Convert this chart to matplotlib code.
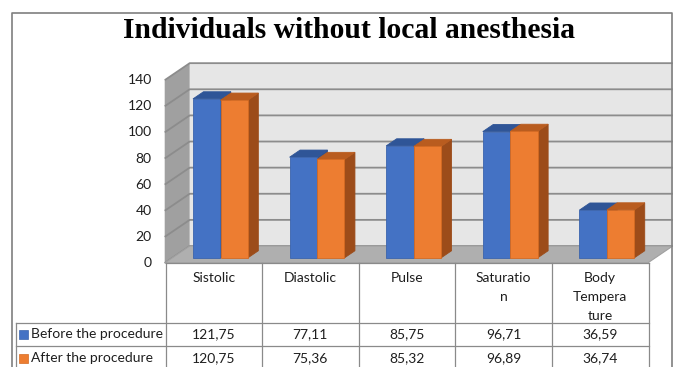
import numpy as np
import matplotlib
matplotlib.use("Agg")
import matplotlib.pyplot as plt
from matplotlib.patches import Polygon, Rectangle

# ---- data ----
title = "Individuals without local anesthesia"
categories = ["Sistolic", "Diastolic", "Pulse", "Saturatio\nn", "Body\nTempera\nture"]
series_names = ["Before the procedure", "After the procedure"]
before = [121.75, 77.11, 85.75, 96.71, 36.59]
after = [120.75, 75.36, 85.32, 96.89, 36.74]
before_labels = ["121,75", "77,11", "85,75", "96,71", "36,59"]
after_labels = ["120,75", "75,36", "85,32", "96,89", "36,74"]
yticks = [0, 20, 40, 60, 80, 100, 120, 140]

W, H = 678, 367
fig = plt.figure(figsize=(W / 100, H / 100), dpi=100)
fig.patch.set_facecolor("white")

# pixel geometry of the "front plane"
X0, XS = 213.0, 96.6      # category 0 centre px, px per category
Y0, YS = 263.0, 1.306     # value 0 px (from top), px per value unit
DPX, DPY = 25.0, 17.0     # full depth offset in px

ax = fig.add_axes([0, 0, 1, 1])
ax.set_xlim(-X0 / XS, (W - X0) / XS)
ax.set_ylim(-(H - Y0) / YS, Y0 / YS)
ax.axis("off")

DX = DPX / XS
DV = DPY / YS


def P(x, v, d):
    return (x + d * DX, v + d * DV)


xl, xr = -0.5, len(categories) - 0.5
vmax = yticks[-1]

# back wall
ax.add_patch(Polygon([P(xl, 0, 1), P(xr, 0, 1), P(xr, vmax, 1), P(xl, vmax, 1)],
                     closed=True, facecolor="#E6E6E6", edgecolor="none", zorder=1))
# left wall
ax.add_patch(Polygon([P(xl, 0, 0), P(xl, 0, 1), P(xl, vmax, 1), P(xl, vmax, 0)],
                     closed=True, facecolor="#A0A0A0", edgecolor="none", zorder=1))
# gridlines
for t in yticks:
    a, b, c = P(xl, t, 0), P(xl, t, 1), P(xr, t, 1)
    ax.plot([a[0], b[0], c[0]], [a[1], b[1], c[1]], color="#8C8C8C", lw=1.3, zorder=2,
            solid_capstyle="butt")
# floor
ax.add_patch(Polygon([P(xl, 0, 0), P(xr, 0, 0), P(xr, 0, 1), P(xl, 0, 1)],
                     closed=True, facecolor="#AFAFAF", edgecolor="#A0A0A0", lw=0.8, zorder=3))

# bars
bw = 0.283
d0, d1 = 0.3, 0.72
styles = [
    dict(front="#4472C4", top="#2F5597", side="#2E518F", edge="#3B64AD"),
    dict(front="#ED7D31", top="#B95C1F", side="#9C4C1A", edge="#D46A22"),
]
offsets = [-bw - 0.002, 0.0]
for i in range(len(categories)):
    for s, vals in enumerate([before, after]):
        v = vals[i]
        st = styles[s]
        x0 = i + offsets[s]
        x1 = x0 + bw
        side = [P(x1, 0, d0), P(x1, 0, d1), P(x1, v, d1), P(x1, v, d0)]
        top = [P(x0, v, d0), P(x1, v, d0), P(x1, v, d1), P(x0, v, d1)]
        front = [P(x0, 0, d0), P(x1, 0, d0), P(x1, v, d0), P(x0, v, d0)]
        z = 4 + i * 0.1 + s * 0.05
        ax.add_patch(Polygon(side, closed=True, facecolor=st["side"], edgecolor=st["side"], lw=0.6, zorder=z))
        ax.add_patch(Polygon(top, closed=True, facecolor=st["top"], edgecolor=st["top"], lw=0.6, zorder=z))
        ax.add_patch(Polygon(front, closed=True, facecolor=st["front"], edgecolor=st["edge"], lw=0.6, zorder=z + 0.01))

# y tick labels
for t in yticks:
    ax.annotate(str(t), xy=(xl, t), xytext=(-13, 0), textcoords="offset pixels",
                ha="right", va="center", fontsize=10, family="Lato", color="#1E1E1E", zorder=6)

# ---- overlay in pixel coordinates: frame, title, data table ----
ov = fig.add_axes([0, 0, 1, 1], facecolor="none")
ov.set_xlim(0, W)
ov.set_ylim(H, 0)
ov.axis("off")

lc = "#8A8A8A"
# outer frame
ov.plot([12, 12, 672, 672], [H + 2, 12.5, 12.5, H + 2], color="#7F7F7F", lw=1.2, zorder=1)

ov.text(349, 38, title, ha="center", va="baseline", fontsize=21.3, fontweight="bold",
        family="Liberation Serif", color="black")

# table
col_left = 165.5
col_w = 96.6
n = len(categories)
col_edges = [col_left + k * col_w for k in range(n + 1)]
row_top = 263
row1 = 322.5
row2 = 346
# verticals
for xe in col_edges:
    ov.plot([xe, xe], [row_top, H + 2], color=lc, lw=0.9, zorder=1)
ov.plot([15.5, 15.5], [row1, H + 2], color=lc, lw=0.9, zorder=1)
# horizontals
ov.plot([col_edges[0], col_edges[-1]], [row_top, row_top], color=lc, lw=0.9, zorder=1)
ov.plot([15.5, col_edges[-1]], [row1, row1], color=lc, lw=0.9, zorder=1)
ov.plot([15.5, col_edges[-1]], [row2, row2], color=lc, lw=0.9, zorder=1)

tf = dict(fontsize=10, family="Lato", color="#1E1E1E")
for k, cat in enumerate(categories):
    cx = col_left + (k + 0.5) * col_w
    ov.text(cx, 272, cat, ha="center", va="top", linespacing=1.68, **tf)
    ov.text(cx, 334, before_labels[k], ha="center", va="center", **tf)
    ov.text(cx, 358, after_labels[k], ha="center", va="center", **tf)

# legend keys in table
for s, (name, yc) in enumerate(zip(series_names, [334, 358])):
    ov.add_patch(Rectangle((18.5, yc - 4.5), 9, 9, facecolor=styles[s]["front"],
                           edgecolor=styles[s]["edge"], lw=0.5))
    ov.text(31, yc, name, ha="left", va="center", **tf)

fig.savefig("out.png", dpi=100, facecolor="white")
